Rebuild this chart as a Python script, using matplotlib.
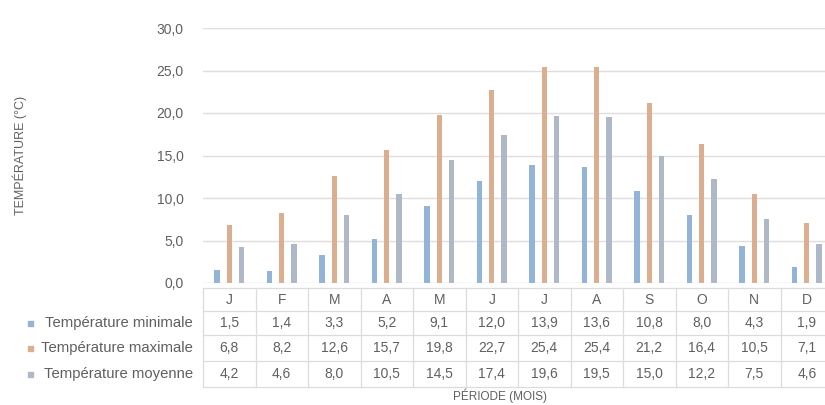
import matplotlib.pyplot as plt
import matplotlib.transforms as mtransforms
from matplotlib.patches import Rectangle
from matplotlib.ticker import FuncFormatter
import numpy as np

plt.rcParams['font.family'] = ['Liberation Sans', 'DejaVu Sans']

months = ["J", "F", "M", "A", "M", "J", "J", "A", "S", "O", "N", "D"]
t_min = [1.5, 1.4, 3.3, 5.2, 9.1, 12.0, 13.9, 13.6, 10.8, 8.0, 4.3, 1.9]
t_max = [6.8, 8.2, 12.6, 15.7, 19.8, 22.7, 25.4, 25.4, 21.2, 16.4, 10.5, 7.1]
t_moy = [4.2, 4.6, 8.0, 10.5, 14.5, 17.4, 19.6, 19.5, 15.0, 12.2, 7.5, 4.6]
series_names = ["Température minimale", "Température maximale", "Température moyenne"]
colors = ["#93b4d6", "#dcae90", "#aeb8c6"]

W, H = 825, 405
fig = plt.figure(figsize=(W / 100, H / 100), dpi=100)


def fy(py):
    # pixel row from top -> figure fraction
    return 1 - py / H


ax = fig.add_axes([203 / W, fy(283), 630 / W, (283 - 28) / H])
x = np.arange(len(months))
for k, vals in enumerate([t_min, t_max, t_moy]):
    ax.bar(x + (k - 1) * 0.235, vals, width=0.1, color=colors[k], zorder=3)

ax.set_xlim(-0.5, len(months) - 0.5)
ax.set_ylim(0, 30)
ax.set_yticks(np.arange(0, 31, 5))
ax.yaxis.set_major_formatter(FuncFormatter(lambda v, p: f"{v:.1f}".replace(".", ",")))
ax.tick_params(axis="y", length=0, pad=14, labelsize=10, labelcolor="#606060")
ax.set_xticks([])
ax.grid(axis="y", color="#dedede", linewidth=1, zorder=0)
for s in ax.spines.values():
    s.set_visible(False)

ax.set_ylabel("TEMPÉRATURE (°C)", fontsize=9, color="#606060")
ax.yaxis.set_label_coords((27 - 203) / 630, 0.5)

# data table under the axes
tr = mtransforms.blended_transform_factory(ax.transData, fig.transFigure)
grid_kw = dict(color="#dcdcdc", linewidth=0.9, transform=tr, clip_on=False)
row_lines = [288, 311, 335, 361, 387]
for py in row_lines:
    ax.plot([-0.5, len(months) - 0.5], [fy(py), fy(py)], **grid_kw)
for i in range(len(months) + 1):
    ax.plot([i - 0.5, i - 0.5], [fy(row_lines[0]), fy(row_lines[-1])], **grid_kw)

txt_kw = dict(fontsize=10, color="#606060", ha="center", va="center", transform=tr)
for i, m in enumerate(months):
    ax.text(i, fy(300), m, **txt_kw)
row_y = [323, 348, 374]
for vals, py in zip([t_min, t_max, t_moy], row_y):
    for i, v in enumerate(vals):
        ax.text(i, fy(py), f"{v:.1f}".replace(".", ","), **txt_kw)

for name, c, py in zip(series_names, colors, row_y):
    fig.add_artist(Rectangle((28 / W, fy(py) - 2.5 / H), 5 / W, 5 / H, color=c))
    fig.text(193 / W, fy(py), name, fontsize=10.7, color="#606060", ha="right", va="center")

fig.text(500 / W, fy(396), "PÉRIODE (MOIS)", fontsize=8.5, color="#606060", ha="center", va="center")

fig.savefig("out.png", dpi=100)
